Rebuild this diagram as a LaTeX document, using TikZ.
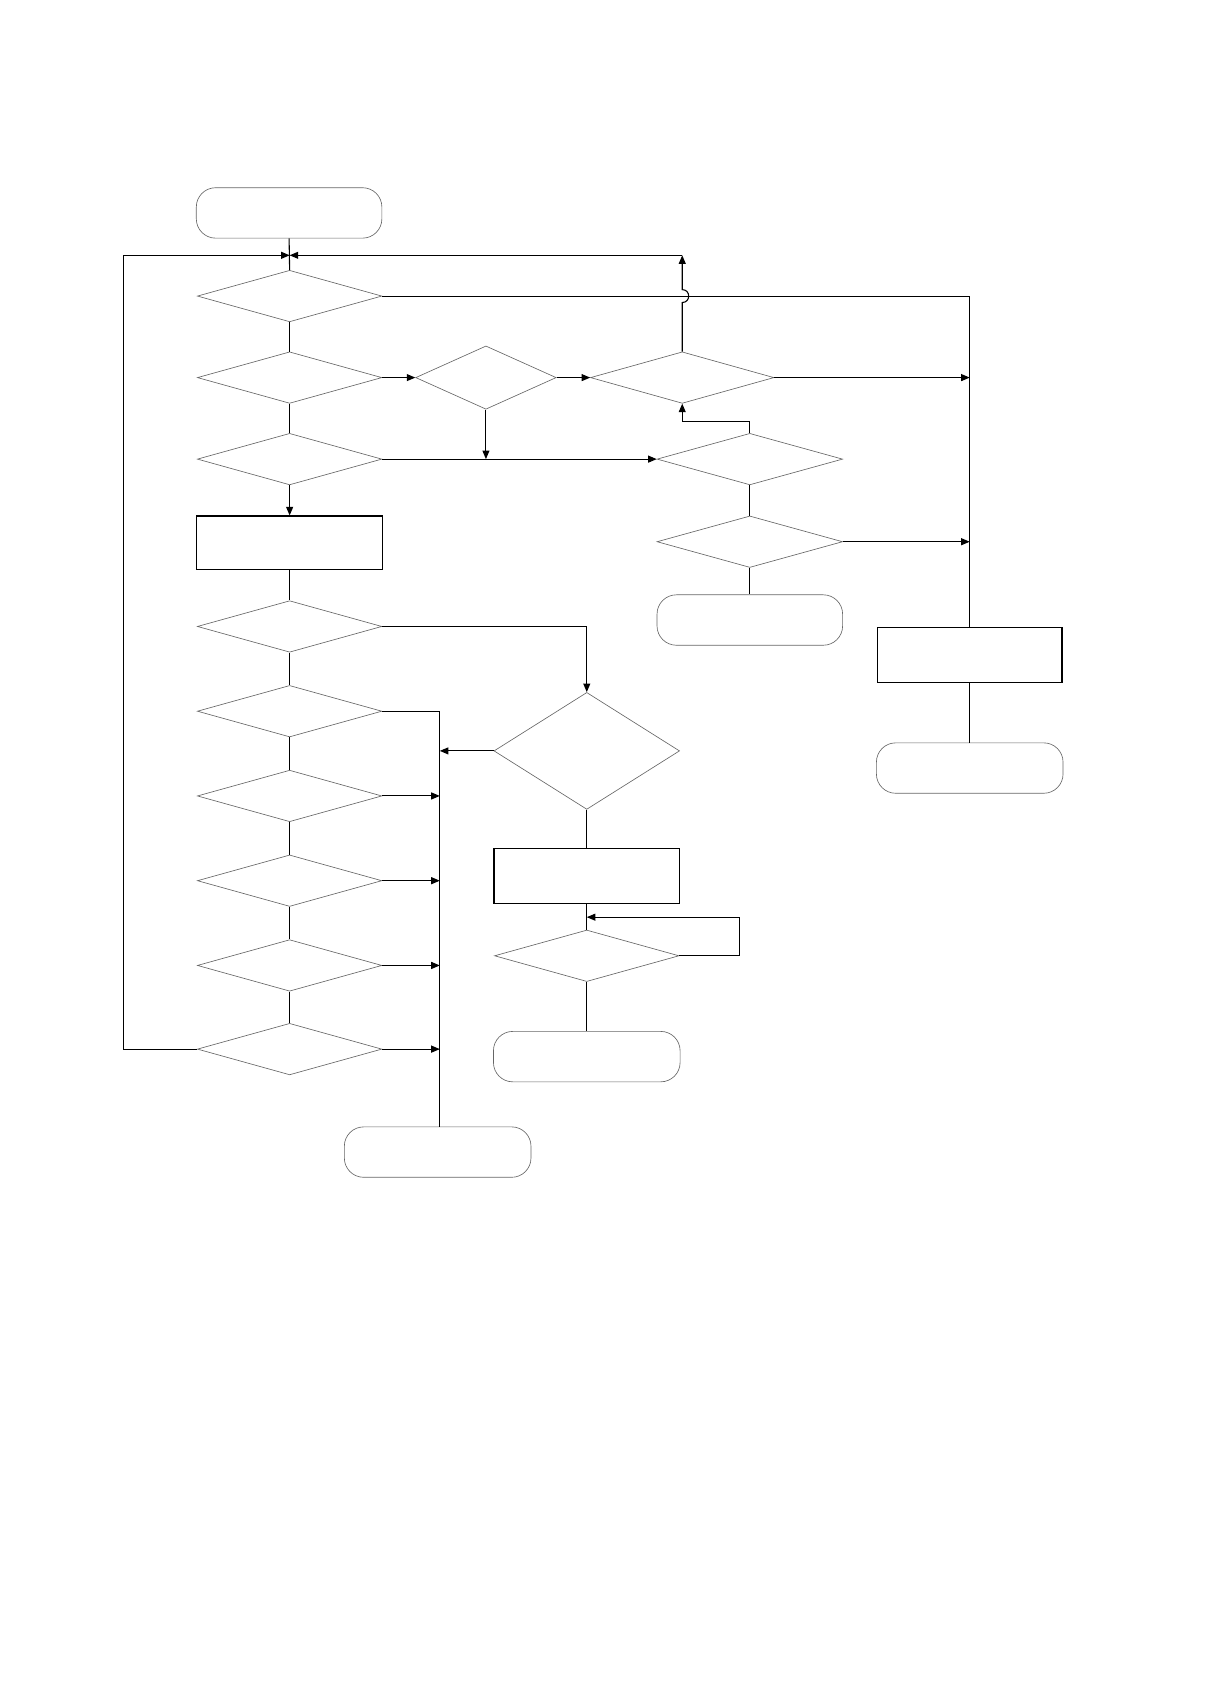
\documentclass[tikz,border=0pt]{standalone}
\usetikzlibrary{shapes.geometric,arrows.meta}
\begin{document}
\begin{tikzpicture}[x=1pt,y=-1pt,
 dec/.style={diamond,draw=black!60,line width=0.6pt,inner sep=0pt,minimum width=172pt,minimum height=48pt},
 term/.style={rectangle,rounded corners=18pt,draw=black!60,line width=0.6pt,minimum width=173pt,minimum height=47pt},
 proc/.style={rectangle,draw=black,line width=1pt,minimum width=174pt,minimum height=50pt},
 conn/.style={draw=black,line width=1pt},
 arr/.style={conn,-{Triangle[length=8pt,width=6.5pt]}}]
\useasboundingbox (0,0) rectangle (1141,1568);
% nodes
\node[term] (s) at (269.5,198.5) {};
\node[dec] (d1) at (270,276) {};
\node[dec] (d2) at (270,352) {};
\node[dec] (d3) at (270,428) {};
\node[proc] (r1) at (270,506) {};
\node[dec] (d4) at (270,584) {};
\node[dec] (d5) at (270,663) {};
\node[dec] (d6) at (270,742) {};
\node[dec] (d7) at (270,821) {};
\node[dec] (d8) at (270,900) {};
\node[dec] (d9) at (270,978) {};
\node[dec,minimum width=131pt,minimum height=59pt] (dm) at (453,352) {};
\node[dec,minimum width=171pt] (dr1) at (636,352) {};
\node[dec,minimum width=173pt] (dr2) at (699,428) {};
\node[dec,minimum width=173pt] (dr3) at (699,505) {};
\node[term] (e2) at (699,578) {};
\node[proc,minimum width=172pt,minimum height=51pt] (r3) at (904,610.5) {};
\node[term,minimum width=174pt] (e3) at (904,716) {};
\node[dec,minimum width=173pt,minimum height=109pt] (db) at (547,700) {};
\node[proc,minimum width=173pt,minimum height=51pt] (r2) at (547,816.5) {};
\node[dec] (d10) at (547,891) {};
\node[term,minimum width=174pt] (e5) at (547,985) {};
\node[term,minimum width=174pt] (e4) at (408,1074) {};
% coordinates
\coordinate (m) at (270,238);
\coordinate (c1) at (636,238);
\coordinate (bl) at (115,978);
\coordinate (tl) at (115,238);
\coordinate (jr) at (904,276);
\coordinate (j1) at (904,352);
\coordinate (j2) at (904,505);
\coordinate (jm) at (453,428);
\coordinate (k1) at (699,393);
\coordinate (k2) at (636,393);
\coordinate (p1) at (547,584);
\coordinate (b0) at (410,663);
\coordinate (b1) at (410,700);
\coordinate (b2) at (410,742);
\coordinate (b3) at (410,821);
\coordinate (b4) at (410,900);
\coordinate (b5) at (410,978);
\coordinate (bend) at (410,1050.5);
\coordinate (q1) at (689,891);
\coordinate (q2) at (689,855);
\coordinate (q3) at (547,855);
% connectors
\draw[conn] (s.south) -- (d1.north);
\draw[arr] (d9.west) -- (bl) -- (tl) -- (m);
\draw[arr] (dr1.north) -- (636,282) .. controls (644,282) and (644,270) .. (636,270) -- (c1);
\draw[arr] (c1) -- (m);
\draw[conn] (d1.east) -- (jr) -- (r3.north);
\draw[conn] (d1.south) -- (d2.north);
\draw[conn] (d2.south) -- (d3.north);
\draw[arr] (d3.south) -- (r1.north);
\draw[conn] (r1.south) -- (d4.north);
\draw[conn] (d4.south) -- (d5.north);
\draw[conn] (d5.south) -- (d6.north);
\draw[conn] (d6.south) -- (d7.north);
\draw[conn] (d7.south) -- (d8.north);
\draw[conn] (d8.south) -- (d9.north);
\draw[arr] (d2.east) -- (dm.west);
\draw[arr] (dm.east) -- (dr1.west);
\draw[arr] (dm.south) -- (jm);
\draw[arr] (d3.east) -- (dr2.west);
\draw[arr] (dr2.north) -- (k1) -- (k2) -- (dr1.south);
\draw[conn] (dr2.south) -- (dr3.north);
\draw[arr] (dr1.east) -- (j1);
\draw[arr] (dr3.east) -- (j2);
\draw[conn] (dr3.south) -- (e2.north);
\draw[conn] (r3.south) -- (e3.north);
\draw[arr] (d4.east) -- (p1) -- (db.north);
\draw[arr] (db.west) -- (b1);
\draw[conn] (d5.east) -- (b0) -- (bend);
\draw[arr] (d6.east) -- (b2);
\draw[arr] (d7.east) -- (b3);
\draw[arr] (d8.east) -- (b4);
\draw[arr] (d9.east) -- (b5);
\draw[conn] (db.south) -- (r2.north);
\draw[conn] (r2.south) -- (d10.north);
\draw[arr] (d10.east) -- (q1) -- (q2) -- (q3);
\draw[conn] (d10.south) -- (e5.north);
\end{tikzpicture}
\end{document}
